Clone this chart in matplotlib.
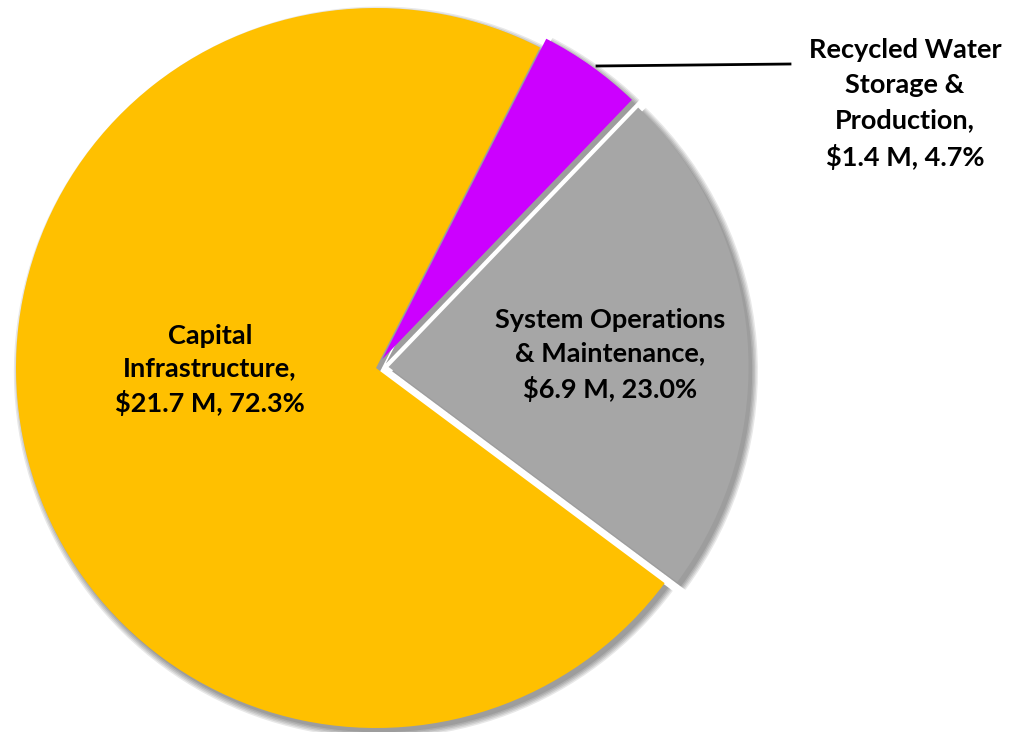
import matplotlib
matplotlib.use("Agg")
import matplotlib.pyplot as plt

plt.rcParams['font.family'] = ['Lato', 'DejaVu Sans']

# data
names = ["Capital\nInfrastructure,", "Recycled Water\nStorage &\nProduction,", "System Operations\n& Maintenance,"]
values = [21.7, 1.4, 6.9]
pcts = [72.3, 4.7, 23.0]
colors = ['#FFC000', '#CC00FF', '#A6A6A6']
explode = [0.0, 0.03, 0.035]

fig = plt.figure(figsize=(10.18, 7.32), dpi=100)
ax = fig.add_axes([0, 0, 1, 1])

start = -36.7 + 360

# soft shadow: a few dark translucent layers under the pie
for dr in [0.0, 0.004, 0.008, 0.012, 0.016]:
    ax.pie(values, colors=['#000000'] * 3, explode=explode, startangle=start,
           counterclock=False, radius=1.0 + dr, center=(0.01, -0.012),
           wedgeprops=dict(linewidth=0, alpha=0.09))

# pie, clockwise, yellow starts at -36.7 deg
wedges, _ = ax.pie(values, colors=colors, explode=explode, startangle=start,
                   counterclock=False, radius=1.0,
                   wedgeprops=dict(linewidth=0))

# 1 data unit = 360 px, center at (376, 368) px from top-left
ax.set_aspect('auto')
ax.set_xlim(-376 / 360, (1018 - 376) / 360)
ax.set_ylim(-(732 - 368) / 360, 368 / 360)
ax.axis('off')

def px(x, y):
    return (x - 376) / 360, (368 - y) / 360

labels = [n + "\n$%.1f M, %.1f%%" % (v, p) for n, v, p in zip(names, values, pcts)]
labels = [l.replace("$", r"\$") for l in labels]

ax.text(*px(210, 370), labels[0], ha='center', va='center', fontsize=19.5,
        fontweight='bold', linespacing=1.43)
ax.text(*px(610, 355), labels[2], ha='center', va='center', fontsize=19.5,
        fontweight='bold', linespacing=1.46)
ax.text(*px(905, 104), labels[1], ha='center', va='center', fontsize=19.5,
        fontweight='bold', linespacing=1.56)

# leader line for the small slice
x0, y0 = px(597, 66)
x1, y1 = px(790, 64)
ax.plot([x0, x1], [y0, y1], color='black', linewidth=2)

plt.savefig("out.png", dpi=100)
